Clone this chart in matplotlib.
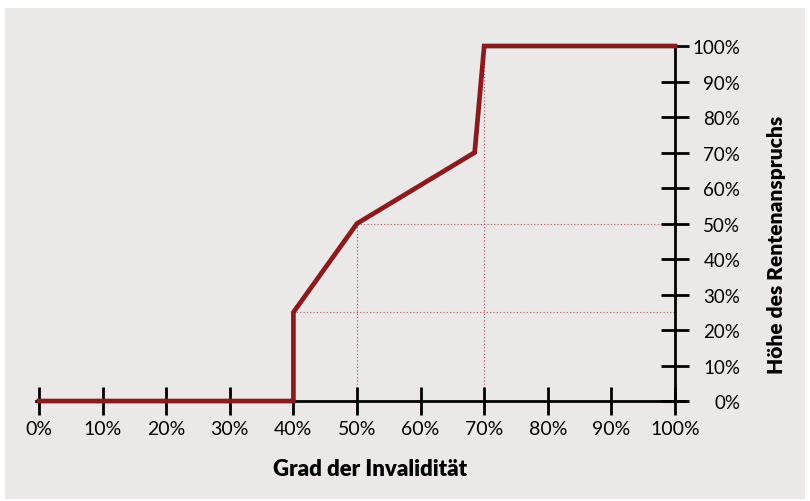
import matplotlib.pyplot as plt
from matplotlib.patches import Rectangle

# Daten
invaliditaet = [0, 40, 40, 50, 68.5, 70, 100]
rente = [0, 0, 25, 50, 70, 100, 100]
x_ticks = list(range(0, 101, 10))
y_ticks = list(range(0, 101, 10))
x_labels = [f'{v}%' for v in x_ticks]
y_labels = [f'{v}%' for v in y_ticks]

# Hilfslinien (gepunktet)
guides_h = [(25, 40, 100), (50, 50, 100)]
guides_v = [(50, 0, 50), (70, 0, 100)]

red = '#8b1a1e'
bg = '#ece8e7'
font = ['Lato', 'DejaVu Sans']

fig = plt.figure(figsize=(8.10, 5.02), dpi=100, facecolor='white')
fig.patches.append(Rectangle((5 / 810, 0.004), 800 / 810, 491 / 502, transform=fig.transFigure,
                             facecolor=bg, edgecolor='none', zorder=-10))

ax = fig.add_axes([0.0403, 0.1956, 0.8048, 0.7178])
ax.set_facecolor('none')
ax.set_xlim(-1, 101.5)
ax.set_ylim(-0.5, 101)

for y, x0, x1 in guides_h:
    ax.plot([x0, x1], [y, y], color='#c0505a', lw=0.8, ls=(0, (1, 2)), zorder=1)
for x, y0, y1 in guides_v:
    ax.plot([x, x], [y0, y1], color='#c0505a', lw=0.8, ls=(0, (1, 2)), zorder=1)

ax.plot(invaliditaet, rente, color=red, lw=3.4, solid_joinstyle='miter', zorder=5, clip_on=False)

ax.spines['left'].set_visible(False)
ax.spines['top'].set_visible(False)
ax.spines['right'].set_position(('data', 100))
ax.spines['bottom'].set_position(('data', 0))
ax.spines['right'].set_bounds(0, 100)
ax.spines['bottom'].set_bounds(-0.5, 101.5)
for s in ('right', 'bottom'):
    ax.spines[s].set_linewidth(2)
    ax.spines[s].set_zorder(3)

ax.yaxis.tick_right()
ax.set_xticks(x_ticks)
ax.set_xticklabels(x_labels, family=font, fontsize=14)
ax.set_yticks(y_ticks)
ax.set_yticklabels(y_labels, family=font, fontsize=13.5, ha='right')
ax.tick_params(axis='x', direction='inout', length=20, width=2, pad=4)
ax.tick_params(axis='y', direction='inout', length=20, width=2, pad=37)

fig.text(370 / 810, 1 - 470 / 502, 'Grad der Invalidität', family=font, fontsize=16,
         fontweight='heavy', ha='center', va='center')
fig.text(777 / 810, 1 - 245 / 502, 'Höhe des Rentenanspruchs', family=font, fontsize=15,
         fontweight='heavy', ha='center', va='center', rotation=90)

fig.savefig('out.png', dpi=100, facecolor='white')
